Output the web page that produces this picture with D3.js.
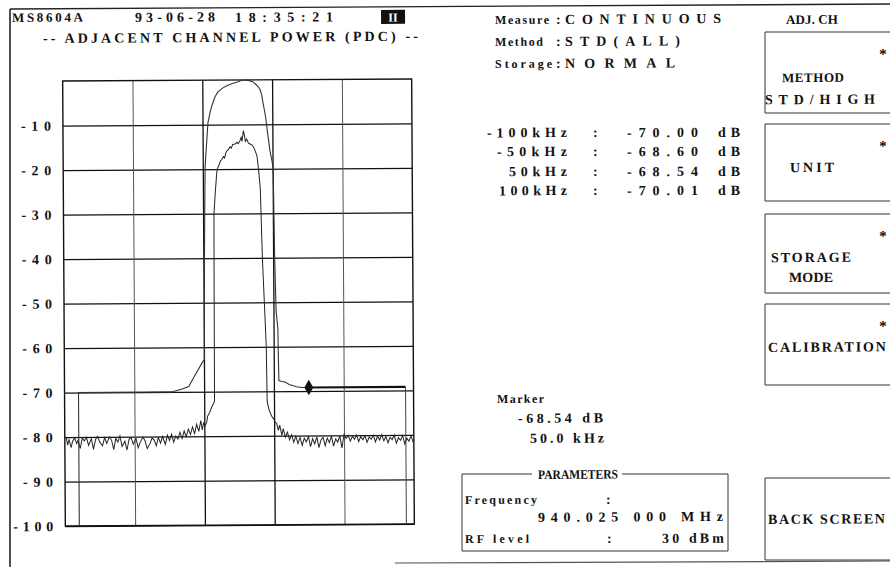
<!DOCTYPE html>
<html><head><meta charset="utf-8">
<script src="https://cdn.jsdelivr.net/npm/d3@7"></script>
<style>
html,body{margin:0;padding:0;background:#fff;}
svg{display:block;}
</style></head><body>
<svg id="c" width="890" height="567"></svg>
<script>
// ---------------- data ----------------
const yTicks = [-10,-20,-30,-40,-50,-60,-70,-80,-90,-100];
const yLabels = ["-10","-20","-30","-40","-50","-60","-70","-80","-90","-100"];
const xGrid = [-75,-25,25,75];           // kHz
const xDomain = [-125,125];              // kHz
const yDomain = [-100,0];                // dB

// wide (upper) trace  [kHz, dB]
const wideTrace = [[-115,-100],[-115,-70],[-48.4,-70],[-41.2,-69.4],[-36,-68.8],[-31.9,-66.5],[-26.9,-63.8],[-24.7,-62.7],[-24.6,-56],[-24.2,-40],[-23.6,-25],[-23.3,-19.3],[-21.8,-12.6],[-21.1,-9.5],[-19.5,-7.2],[-18.3,-5.8],[-16,-3.8],[-14.0,-2.7],[-10.5,-1.8],[-7.5,-1.3],[-3.5,-0.8],[-0.4,-0.5],[3,-0.1],[5.4,0],[8,-0.1],[11.1,-0.4],[14,-1.2],[16.1,-2],[17.5,-3.3],[18.3,-5],[19.5,-7],[20.4,-8.8],[21.8,-12.6],[23.3,-16.2],[24.7,-18.4],[25.4,-20],[26.1,-40],[26.9,-52],[28.1,-56],[28.3,-62],[28.6,-67.6],[30.5,-67.8],[32.6,-67.9],[36,-68.5],[41.2,-69.0],[45,-69.2],[50,-69.2]];
const wideTail = [[50,-69.2],[119.3,-69.2]];
const wideEnd = [[119.3,-69.2],[119.3,-100]];

// narrow (lower) trace  [kHz, dB]
const noiseLeft = [[-124,-80.0],[-123,-81.8],[-122,-80.6],[-120.5,-82.4],[-119.5,-81.0],[-118,-80.2],[-116.5,-81.5],[-115.5,-80.7],[-114,-82.6],[-112.5,-80.3],[-111,-80.9],[-109.5,-80.1],[-108,-81.9],[-106,-80.4],[-104.5,-82.8],[-103,-80.6],[-101.5,-79.9],[-100,-81.2],[-98,-82.0],[-96.5,-80.2],[-95,-81.5],[-93,-80.0],[-91.5,-80.8],[-90,-82.9],[-88.5,-80.4],[-87,-81.2],[-85.5,-79.8],[-84,-82.2],[-82,-81.0],[-80.5,-83.0],[-79,-80.6],[-77.5,-80.2],[-76,-81.7],[-74,-80.4],[-72.5,-82.5],[-71,-81.3],[-69,-80.1],[-67.5,-81.0],[-66,-82.7],[-64,-81.6],[-62.5,-80.3],[-61,-80.8],[-59.5,-82.1],[-58,-80.2],[-56.5,-81.5],[-55,-80.0],[-53,-81.8],[-51.5,-79.7],[-50,-80.9],[-48.5,-79.5],[-47,-81.3],[-45.5,-79.9],[-44,-80.6],[-42.5,-79.1],[-41,-80.5],[-39.5,-78.8],[-38,-80.1],[-36.5,-78.4],[-35,-79.6],[-33.5,-77.9],[-32,-79.4],[-30.5,-77.3],[-29,-78.9],[-27.5,-76.5],[-26.5,-78.6],[-25.5,-76.9]];
const narrowMain = [[-24.7,-77.8],[-23.3,-76.9],[-22.6,-75.5],[-21,-74.6],[-19.7,-73.5],[-17.6,-72.2],[-17.5,-60],[-17.4,-45],[-17.2,-30],[-16.1,-25],[-15.2,-21.5],[-14.7,-20],[-13.5,-19.2],[-12.5,-18.3],[-11.3,-17.8],[-10.2,-17.2],[-9.3,-17.5],[-8.5,-16.4],[-7.7,-15.9],[-6.5,-15.6],[-5.4,-15],[-4.5,-15.3],[-3.5,-14.5],[-1.8,-14.4],[-0.5,-14.0],[0.5,-14.3],[1.8,-13.6],[2.6,-12.9],[3.2,-13.8],[4.2,-11.4],[5.0,-12.5],[5.6,-13.8],[6.6,-13.3],[7.8,-14.2],[9.0,-14.4],[10.2,-14.6],[11.3,-15],[12.5,-15.9],[13.8,-17],[14.9,-20],[16.1,-24.5],[17.3,-40],[18.5,-50],[19.7,-60],[20.1,-72.2],[21.0,-73.6],[21.8,-74.5],[23.3,-75.6],[24.7,-76.2],[25.8,-76.9],[26.9,-77.3]];
const noiseRight = [[28,-78.8],[29,-77.6],[30.5,-79.9],[31.5,-78.4],[33,-80.3],[34.5,-79.2],[36,-80.9],[37.5,-79.8],[39,-81.5],[40.5,-80.1],[42,-81.8],[43.5,-80.4],[45,-82.2],[46.5,-80.6],[48,-81.4],[49.5,-80.2],[51,-82.5],[52.5,-80.7],[54,-81.9],[55.5,-80.3],[57,-82.7],[58.5,-81.0],[60,-80.4],[61.5,-82.3],[63,-80.6],[64.5,-81.6],[66,-80.2],[67.5,-82.4],[69,-80.8],[70.5,-81.5],[72,-80.1],[73.5,-82.8],[75,-79.8],[76.5,-80.7],[78,-80.0],[79.5,-81.3],[81,-80.2],[82.5,-80.9],[84,-79.9],[85.5,-81.4],[87,-80.3],[88.5,-81.0],[90,-80.1],[91.5,-81.6],[93,-80.4],[94.5,-80.9],[96,-80.0],[97.5,-81.5],[99,-80.2],[100.5,-81.1],[102,-79.9],[103.5,-81.3],[105,-80.3],[106.5,-81.7],[108,-80.5],[109.5,-81.0],[111,-80.0],[112.5,-81.8],[114,-80.6],[115.5,-81.2],[117,-80.1],[118.5,-82.0],[120,-80.7],[121.5,-81.4],[123,-80.2],[124.5,-81.6],[125,-81.0]];

const marker = {f:50, db:-69.2};

const adjFreqs = ["-100kHz","-50kHz","50kHz","100kHz"];
const adjVals  = ["-70.00","-68.60","-68.54","-70.01"];
const statusKeys = ["Measure","Method","Storage"];
const statusVals = ["CONTINUOUS","STD(ALL)","NORMAL"];

// ---------------- layout ----------------
const W=890,H=567;
const TH=0.006, PX=239, PY=302;           // slight scan tilt
const U=(X,Y)=>[X - TH*(Y-PY), Y + TH*(X-PX)];
const FONT='"Liberation Serif","DejaVu Serif",serif';

const svg=d3.select('#c');
svg.append('rect').attr('width',W).attr('height',H).attr('fill','#fff');
const g=svg.append('g').attr('transform',`rotate(${-TH*180/Math.PI},${PX},${PY})`);

function fitText(t,len){
  const nat=t.node().getComputedTextLength();
  t.attr('textLength',len).attr('lengthAdjust',nat>len?'spacingAndGlyphs':'spacing');
}
function T(str,X,Y,o={}){
  const p=U(X,Y);
  const t=g.append('text').attr('x',p[0]).attr('y',p[1]).text(str)
    .attr('font-family',FONT).attr('font-weight','bold')
    .attr('font-size',o.size||14).attr('fill',o.fill||'#111')
    .attr('text-anchor',o.anchor||'start');
  if(o.len) fitText(t,o.len);
  return t;
}
function L(X1,Y1,X2,Y2,w,c){
  const a=U(X1,Y1),b=U(X2,Y2);
  g.append('line').attr('x1',a[0]).attr('y1',a[1]).attr('x2',b[0]).attr('y2',b[1])
   .attr('stroke',c||'#222').attr('stroke-width',w||1.2);
}

// frame
L(10,9,890,4,1.4,'#222');
L(10,9,10,575,1.6,'#222');
L(395,563,895,561,1.2,'#555');

// header
T("MS8604A",12,22,{len:71,size:13});
T("93-06-28",135,22,{len:80});
T("18:35:21",235,22,{len:98});
{const a=U(381,10);
 g.append('rect').attr('x',a[0]).attr('y',a[1]).attr('width',24).attr('height',14).attr('fill','#111');
 T("II",393,21.5,{anchor:'middle',size:12,fill:'#fff'});}
T("-- ADJACENT CHANNEL POWER (PDC) --",43,43,{len:375});

// ---------------- chart ----------------
const PL=64,PT=80,PW=349,PH=445;
const x=d3.scaleLinear().domain(xDomain).range([PL,PL+PW]);
const y=d3.scaleLinear().domain(yDomain).range([PT+PH,PT]);

const ya=g.append('g').attr('transform',`translate(${PL},0)`)
  .call(d3.axisLeft(y).tickValues(yTicks).tickSize(-PW).tickPadding(12)
        .tickFormat((d,i)=>yLabels[i]));
ya.select('.domain').remove();
ya.selectAll('line').attr('stroke','#111').attr('stroke-width',1.3);
ya.selectAll('text').attr('font-family',FONT).attr('font-weight','bold')
  .attr('font-size',14).attr('fill','#111')
  .attr('textLength',(d,i)=>yLabels[i].length*10).attr('lengthAdjust','spacing');

const xa=g.append('g').attr('transform',`translate(0,${PT+PH})`)
  .call(d3.axisBottom(x).tickValues(xGrid).tickSize(-PH).tickFormat(''));
xa.select('.domain').remove();
xa.selectAll('line').attr('stroke',d=>Math.abs(d)<50?'#111':'#555').attr('stroke-width',d=>Math.abs(d)<50?1.3:1);

g.append('rect').attr('x',PL).attr('y',PT).attr('width',PW).attr('height',PH)
  .attr('fill','none').attr('stroke','#111').attr('stroke-width',1.4);

const line=d3.line().x(d=>x(d[0])).y(d=>y(d[1]));
g.append('path').attr('d',line(wideTrace)).attr('fill','none').attr('stroke','#333').attr('stroke-width',1.1);
g.append('path').attr('d',line(wideTail)).attr('fill','none').attr('stroke','#111').attr('stroke-width',2.2);
g.append('path').attr('d',line(wideEnd)).attr('fill','none').attr('stroke','#444').attr('stroke-width',1);
g.append('path').attr('d',line(noiseLeft.concat(narrowMain,noiseRight))).attr('fill','none')
  .attr('stroke','#222').attr('stroke-width',1);
g.append('path').attr('d',d3.symbol(d3.symbolDiamond,70)())
  .attr('transform',`translate(${x(marker.f)},${y(marker.db)})`).attr('fill','#111');

// ---------------- right panel ----------------
const statusY=[24,46,68], statusLen=[54,48,57], statusValLen=[156,115,110];
statusKeys.forEach((k,i)=>{
  T(k,495,statusY[i],{len:statusLen[i],size:12});
  T(":",556,statusY[i]);
  T(statusVals[i],565,statusY[i],{len:statusValLen[i]});
});
T("ADJ. CH",786,24,{len:52,size:13});

const rowY=[137,156,176,195], fLen=[80,70,58,68];
adjFreqs.forEach((f,i)=>{
  T(f,567,rowY[i],{anchor:'end',len:fLen[i]});
  T(":",593,rowY[i]);
  T(adjVals[i],698,rowY[i],{anchor:'end',len:71});
  T("dB",718,rowY[i],{len:22});
});

T("Marker",497,403,{len:47,size:12});
T("-68.54 dB",518,423,{len:85});
T("50.0 kHz",530,443,{len:74});

// parameters box
L(462,474,532,474,1,'#333'); L(622,474,728,474,1,'#333');
L(462,474,462,551,1,'#333'); L(728,474,728,551,1,'#333'); L(462,551,728,551,1,'#333');
T("PARAMETERS",538,479,{len:80,size:13});
T("Frequency",465,504,{len:72,size:12}); T(":",606,504);
T("940.025 000 MHz",538,522,{len:185});
T("RF level",465,543,{len:64,size:12}); T(":",607,543);
T("30 dBm",662,543,{len:62});

// soft keys
const keyTop=[32,124,214,304,478], keyBot=[113,201,293,385,560];
keyTop.forEach((t,i)=>{
  L(765,t,900,t,1,'#333'); L(765,t,765,keyBot[i],1,'#333'); L(765,keyBot[i],900,keyBot[i],1,'#333');
  if(i<4) T("*",883,t+27,{anchor:'middle',size:15});
});
T("METHOD",813,82,{anchor:'middle',len:62,size:13});
T("STD/HIGH",820,104,{anchor:'middle',len:110});
T("UNIT",812,172,{anchor:'middle',len:44});
T("STORAGE",811,262,{anchor:'middle',len:80});
T("MODE",811,282,{anchor:'middle',len:44});
T("CALIBRATION",768,352,{len:118});
T("BACK SCREEN",768,524,{len:117});
</script>
</body></html>
